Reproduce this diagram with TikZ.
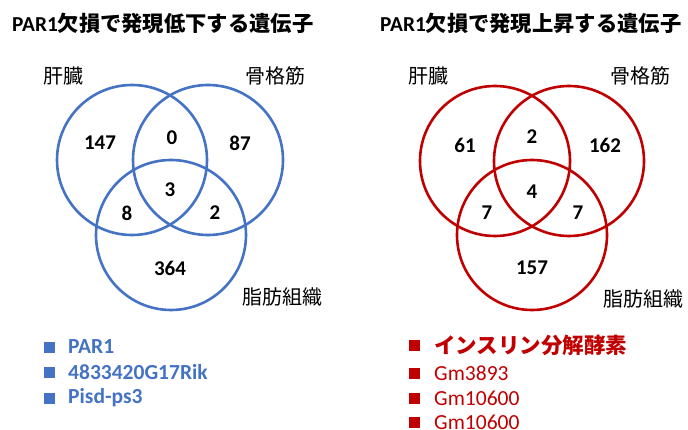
\documentclass[tikz,border=0pt]{standalone}
\usepackage{fontspec}
\setmainfont{Carlito}
\newfontfamily\jp{Noto Sans CJK JP}
\definecolor{vblue}{HTML}{4472C4}
\definecolor{vred}{HTML}{C00000}
\begin{document}
\begin{tikzpicture}[x=1pt,y=-1pt,
  vc/.style={circle,draw,line width=2.6pt,minimum size=150pt,inner sep=0pt},
  num/.style={font=\fontsize{21}{24}\selectfont\bfseries,inner sep=0pt},
  lab/.style={font=\fontsize{20}{24}\selectfont\jp,inner sep=0pt},
  ttl/.style={font=\fontsize{21.3}{26}\selectfont\bfseries,anchor=west,inner sep=0pt},
  sq/.style={fill,minimum size=11pt,inner sep=0pt},
  item/.style={anchor=west,inner sep=0pt,font=\fontsize{21.5}{25}\selectfont}]
\useasboundingbox (0,0) rectangle (688,430);
% titles
\node[ttl] (t1) at (12,23) {PAR1{\jp 欠損で発現低下する遺伝子}};
\node[ttl] (t2) at (380,23) {PAR1{\jp 欠損で発現上昇する遺伝子}};
% left venn
\node[vc,vblue] (LL) at (132,160) {};
\node[vc,vblue] (LS) at (208,160) {};
\node[vc,vblue] (LF) at (171,235) {};
\node[lab] (la1) at (63,76) {肝臓};
\node[lab] (la2) at (275,76) {骨格筋};
\node[lab] (la3) at (282,297) {脂肪組織};
\node[num] (n1) at (100,143) {147};
\node[num] (n2) at (172,138) {0};
\node[num] (n3) at (240,143) {87};
\node[num] (n4) at (170,190) {3};
\node[num] (n5) at (127,213) {8};
\node[num] (n6) at (215,213) {2};
\node[num] (n7) at (170,268) {364};
% right venn
\node[vc,vred] (RL) at (495,161) {};
\node[vc,vred] (RS) at (569,161) {};
\node[vc,vred] (RF) at (532,235) {};
\node[lab] (ra1) at (428,76) {肝臓};
\node[lab] (ra2) at (640,76) {骨格筋};
\node[lab] (ra3) at (643,299) {脂肪組織};
\node[num] (m1) at (465,145) {61};
\node[num] (m2) at (532,137) {2};
\node[num] (m3) at (605,145) {162};
\node[num] (m4) at (532,192) {4};
\node[num] (m5) at (487,213) {7};
\node[num] (m6) at (578,213) {7};
\node[num] (m7) at (532,268) {157};
% left list
\node[sq,vblue] (bs1) at (49,347) {};
\node[sq,vblue] (bs2) at (49,372) {};
\node[sq,vblue] (bs3) at (49,398) {};
\node[item,vblue,font=\fontsize{21.5}{25}\selectfont\bfseries] (bi1) at (68,347) {PAR1};
\node[item,vblue,font=\fontsize{21.5}{25}\selectfont\bfseries] (bi2) at (68,372) {4833420G17Rik};
\node[item,vblue,font=\fontsize{21.5}{25}\selectfont\bfseries] (bi3) at (68,398) {Pisd-ps3};
% right list
\node[sq,vred] (rs1) at (414,345) {};
\node[sq,vred] (rs2) at (414,373) {};
\node[sq,vred] (rs3) at (414,398) {};
\node[sq,vred] (rs4) at (414,422) {};
\node[item,vred,font=\fontsize{21.5}{25}\selectfont\bfseries\jp] (ri1) at (434,345) {インスリン分解酵素};
\node[item,vred] (ri2) at (434,373) {Gm3893};
\node[item,vred] (ri3) at (434,398) {Gm10600};
\node[item,vred] (ri4) at (434,422) {Gm10600};
\end{tikzpicture}
\end{document}
